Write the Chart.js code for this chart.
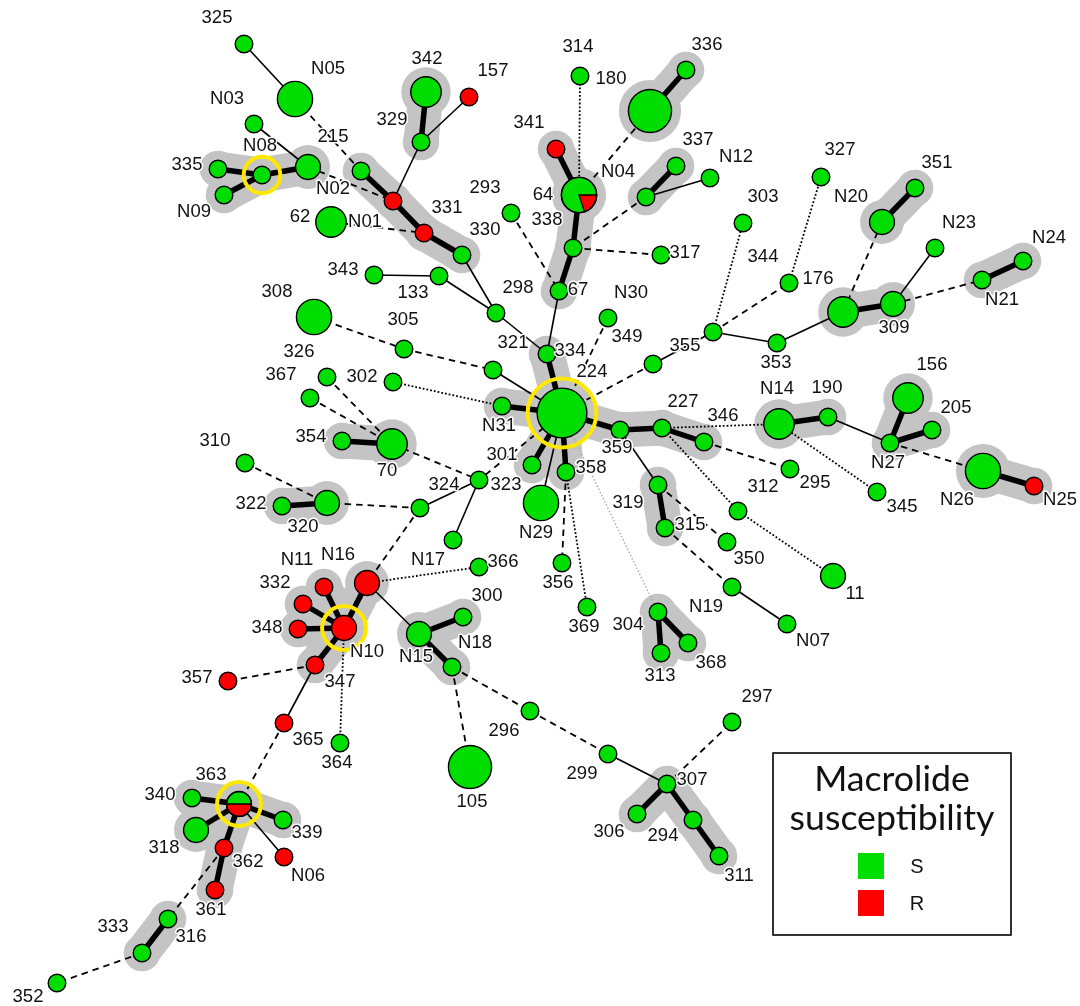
<!DOCTYPE html>
<html lang="en">
<head>
<meta charset="UTF-8">
<title>MST - Macrolide susceptibility</title>
<script src="https://cdn.jsdelivr.net/npm/chart.js"></script>
<style>
  html, body { margin: 0; padding: 0; background: #fff; }
  #wrap { width: 1080px; height: 1006px; }
</style>
</head>
<body>
<div id="wrap"><canvas id="mst" width="1080" height="1006"></canvas></div>
<script>
// nodes of the minimum spanning tree (layout coords, isolates per node, share of resistant isolates)
const nodeIds = ['325','N05','N03','N08','335','N09','N02','62','308','343','342','329','157','215','r1','331','330','133','298','67','293','341','64','314','180','336','337','N12','u3','338','317','N30','327','303','176','351','N20','N23','N24','N21','u4','309','344','353','355','334','hub','N31','321','305','302','70','354','326','367','310','320','322','301','358','323','324','N29','N17','366','356','369','300','N15','N18','N16','N10','332','N11','348','347','357','365','364','363','340','318','339','362','N06','361','316','333','352','296','105','299','307','306','294','311','297','N14','190','156','205','N27','N26','N25','295','345','312','350','11','N19','N07','359','227','346','319','315','304','313','368'];
const nodeX = [244,295,254,262,218,224,308,331,314,374,426,421,469,361,393,424,462,439,496,559,511,556,579,580,650,686,676,710,646,573,661,608,821,743,789,915,882,935,1023,982,843,893,713,777,653,547,562,502,493,404,393,392,342,327,310,245,327,282,532,566,479,420,541,453,479,562,587,463,419,452,367,344,324,303,298,315,228,284,340,239,192,196,283,224,284,215,168,142,57,530,470,608,667,637,693,719,732,779,828,908,932,890,983,1034,790,877,738,727,833,732,787,620,662,704,658,665,658,661,688];
const nodeY = [44,99,124,175,169,195,167,222,317,275,92,142,97,171,201,233,255,276,313,291,213,149,195,76,111,70,166,178,197,248,255,318,177,223,283,188,222,248,261,280,312,304,332,343,364,354,413,406,370,349,382,444,441,377,398,463,503,506,465,472,480,508,503,540,567,563,607,617,634,667,583,628,587,604,629,665,681,723,743,804,798,830,820,848,857,890,919,953,983,711,767,754,784,814,820,856,722,424,417,398,430,443,471,486,469,492,511,542,576,587,624,430,428,442,485,528,612,653,643];
const nodeCount = [1,4,1,1,1,1,2,3,4,1,3,1,1,1,1,1,1,1,1,1,1,1,4,1,6,1,1,1,1,1,1,1,1,1,1,1,2,1,1,1,3,2,1,1,1,1,8,1,1,1,1,3,1,1,1,1,2,1,1,1,1,1,4,1,1,1,1,1,2,1,2,2,1,1,1,1,1,1,1,2,1,2,1,1,1,1,1,1,1,1,6,1,1,1,1,1,1,3,1,3,1,1,4,1,1,1,1,1,2,1,1,1,1,1,1,1,1,1,1];
const nodeResistant = [0,0,0,0,0,0,0,0,0,0,0,0,1,0,1,1,0,0,0,0,0,1,0.2,0,0,0,0,0,0,0,0,0,0,0,0,0,0,0,0,0,0,0,0,0,0,0,0,0,0,0,0,0,0,0,0,0,0,0,0,0,0,0,0,0,0,0,0,0,0,0,1,1,1,1,1,1,1,1,0,0.5,0,0,0,1,1,1,0,0,0,0,0,0,0,0,0,0,0,0,0,0,0,0,0,1,0,0,0,0,0,0,0,0,0,0,0,0,0,0,0];

// links: T thick (1 locus), S solid, D dashed, O dotted, L faint dotted
const links = [
  ['325','N05','S'],['N05','215','D'],['N03','N02','S'],
  ['335','N08','T'],['N09','N08','T'],['N08','N02','T'],['N02','r1','D'],['62','331','D'],
  ['215','r1','T'],['r1','331','T'],['331','330','T'],
  ['r1','329','S'],['329','342','T'],['329','157','S'],
  ['330','298','S'],['343','133','S'],['133','298','S'],['298','334','S'],
  ['67','334','S'],['334','hub','T'],['293','67','D'],
  ['341','64','T'],['64','338','T'],['338','67','T'],
  ['314','64','O'],['180','64','D'],['180','336','T'],
  ['u3','338','D'],['u3','337','T'],['u3','N12','S'],['338','317','D'],
  ['N30','hub','D'],['355','hub','D'],['355','344','S'],
  ['344','303','O'],['344','176','D'],['344','353','S'],['176','327','O'],
  ['353','u4','S'],['u4','309','T'],['u4','N20','D'],['N20','351','T'],['309','N23','S'],['309','N21','D'],['N21','N24','T'],
  ['hub','N31','T'],['hub','321','S'],['308','305','D'],['305','321','D'],['302','N31','O'],
  ['hub','301','T'],['hub','358','T'],['hub','N29','S'],['hub','323','D'],
  ['323','324','S'],['323','N17','S'],['324','320','D'],['324','N16','D'],
  ['70','323','D'],['354','70','T'],['326','70','D'],['367','70','D'],
  ['310','320','D'],['322','320','T'],
  ['358','356','D'],['358','369','O'],['hub','304','L'],
  ['N16','366','O'],['N16','N15','S'],['N16','N10','T'],
  ['N15','300','T'],['N15','N18','T'],['N18','105','D'],['N18','296','D'],['296','299','D'],['299','307','S'],['307','297','D'],
  ['307','306','T'],['307','294','T'],['294','311','T'],
  ['N10','332','T'],['N10','N11','T'],['N10','348','T'],['N10','347','T'],['N10','364','O'],
  ['347','357','D'],['347','365','S'],['365','363','D'],
  ['363','340','T'],['363','318','T'],['363','339','T'],['363','362','T'],['362','361','T'],['363','N06','S'],
  ['362','316','D'],['316','333','T'],['333','352','D'],
  ['hub','359','T'],['359','227','T'],['227','346','T'],['227','N14','O'],['346','295','D'],['227','312','O'],['312','11','O'],
  ['359','319','S'],['319','315','T'],['319','350','D'],['315','N19','D'],['N19','N07','S'],
  ['N14','190','T'],['N14','345','O'],['190','N27','S'],['N27','156','T'],['N27','205','T'],['N27','N26','D'],['N26','N25','T'],
  ['304','313','T'],['304','368','T']
];

// clonal complexes (grey shading)
const complexes = [
  ['335','N08','N09','N02'],['215','r1','331','330'],['342','329'],['341','64','338','67'],
  ['180','336'],['337','u3'],['N20','351'],['u4','309'],['N21','N24'],
  ['hub','334','N31','301','358','359','227','346'],['354','70'],['322','320'],
  ['N16','N10','332','N11','348','347'],['N15','300','N18'],
  ['363','340','318','339','362','361'],['316','333'],['307','306','294','311'],
  ['N14','190'],['N27','156','205'],['N26','N25'],['319','315'],['304','313','368']
];

// founders (yellow rings)
const founders = ['N08','hub','N10','363'];

// text labels [text, x, y]
const labels = [
  ['325',217,18],['N05',328,69],['N03',227,99],['N08',260,146],['335',187,165],['N09',194,212],
  ['N02',333,189],['62',300,217],['215',333,137],['N01',365,222],['308',277,292],['343',343,270],
  ['342',427,59],['329',392,120],['157',493,71],['331',447,208],['330',485,230],['133',413,293],
  ['305',403,320],['293',485,188],['298',518,288],['67',578,290],['341',529,123],['64',543,195],
  ['N04',618,172],['314',578,47],['180',611,79],['336',707,45],['337',698,140],['N12',736,157],
  ['338',547,220],['317',685,253],['N30',631,293],['349',627,337],['327',840,150],['303',763,197],
  ['344',763,257],['176',818,279],['351',937,163],['N20',851,197],['N23',959,223],['N24',1049,238],
  ['N21',1002,300],['309',894,328],['355',685,346],['353',776,363],['321',513,343],['334',570,351],
  ['224',592,372],['N31',499,426],['302',362,377],['70',387,471],['354',311,437],['326',299,352],
  ['367',281,375],['310',215,441],['320',303,527],['322',251,504],['301',502,455],['358',591,468],
  ['323',506,485],['324',444,485],['N29',536,533],['N17',428,560],['366',503,562],['356',558,583],
  ['369',584,627],['300',487,596],['N15',416,657],['N18',475,643],['N16',338,555],['N11',297,560],
  ['332',275,583],['348',267,628],['N10',367,652],['347',340,682],['357',197,678],['365',308,740],
  ['364',337,763],['363',211,775],['340',160,795],['318',164,848],['339',307,833],['362',248,862],
  ['N06',308,876],['361',211,910],['316',191,937],['333',113,927],['352',28,997],['296',504,731],
  ['105',472,802],['299',582,774],['307',692,780],['306',609,832],['294',663,836],['311',739,876],
  ['297',757,697],['N14',777,389],['190',827,388],['156',932,365],['205',956,408],['N27',888,463],
  ['N26',957,500],['N25',1060,500],['295',815,483],['345',902,507],['312',763,487],['350',749,559],
  ['11',855,594],['N19',706,607],['N07',813,641],['359',617,448],['227',683,402],['346',723,416],
  ['319',628,503],['315',690,525],['304',628,625],['313',660,676],['368',711,663]
];

const legendTitle = ['Macrolide', 'susceptibility'];
const legendItems = ['S', 'R'];

const GREEN = '#00dd00';
const RED = '#ff0000';
const idx = {};
nodeIds.forEach((id, i) => { idx[id] = i; });
const radius = n => 8.8 * Math.sqrt(n);

function pos(chart, id) {
  const i = idx[id];
  return [chart.scales.x.getPixelForValue(nodeX[i]), chart.scales.y.getPixelForValue(nodeY[i])];
}

const networkPlugin = {
  id: 'network',
  beforeDatasetsDraw(chart) {
    const ctx = chart.ctx;
    ctx.save();
    // grey shading of complexes
    ctx.fillStyle = '#c4c4c4';
    ctx.strokeStyle = '#c4c4c4';
    ctx.lineCap = 'round';
    complexes.forEach(group => {
      links.forEach(([a, b]) => {
        if (group.includes(a) && group.includes(b)) {
          const [x1, y1] = pos(chart, a), [x2, y2] = pos(chart, b);
          ctx.lineWidth = 35;
          ctx.beginPath(); ctx.moveTo(x1, y1); ctx.lineTo(x2, y2); ctx.stroke();
        }
      });
      group.forEach(id => {
        const [x, y] = pos(chart, id);
        ctx.beginPath(); ctx.arc(x, y, radius(nodeCount[idx[id]]) + 9.5, 0, Math.PI * 2); ctx.fill();
      });
    });
    // links
    ctx.lineCap = 'butt';
    links.forEach(([a, b, t]) => {
      const [x1, y1] = pos(chart, a), [x2, y2] = pos(chart, b);
      ctx.strokeStyle = '#000';
      ctx.setLineDash([]);
      if (t === 'T') ctx.lineWidth = 5.5;
      else if (t === 'S') ctx.lineWidth = 1.6;
      else if (t === 'D') { ctx.lineWidth = 1.8; ctx.setLineDash([6.5, 5]); }
      else if (t === 'O') { ctx.lineWidth = 1.8; ctx.setLineDash([1.8, 2]); }
      else { ctx.lineWidth = 1.4; ctx.strokeStyle = '#aaaaaa'; ctx.setLineDash([1.5, 2]); }
      ctx.beginPath(); ctx.moveTo(x1, y1); ctx.lineTo(x2, y2); ctx.stroke();
    });
    ctx.restore();
  },
  afterDatasetsDraw(chart) {
    const ctx = chart.ctx;
    ctx.save();
    // mixed nodes: resistant wedge
    nodeIds.forEach((id, i) => {
      const f = nodeResistant[i];
      if (f > 0 && f < 1) {
        const [x, y] = pos(chart, id);
        const r = radius(nodeCount[i]);
        ctx.beginPath();
        ctx.moveTo(x, y);
        ctx.arc(x, y, r, 0, f * Math.PI * 2);
        ctx.closePath();
        ctx.fillStyle = RED; ctx.fill();
        ctx.strokeStyle = '#000'; ctx.lineWidth = 1.3; ctx.stroke();
        ctx.beginPath(); ctx.arc(x, y, r, 0, Math.PI * 2); ctx.stroke();
      }
    });
    // founders
    ctx.strokeStyle = '#ffe800';
    ctx.lineWidth = 4;
    founders.forEach(id => {
      const [x, y] = pos(chart, id);
      ctx.beginPath(); ctx.arc(x, y, radius(nodeCount[idx[id]]) + 9.5, 0, Math.PI * 2); ctx.stroke();
    });
    // labels
    ctx.font = '18.5px "Liberation Sans", Arial, sans-serif';
    ctx.textAlign = 'center';
    ctx.textBaseline = 'middle';
    ctx.lineJoin = 'round';
    labels.forEach(([t, lx, ly]) => {
      const x = chart.scales.x.getPixelForValue(lx), y = chart.scales.y.getPixelForValue(ly);
      ctx.strokeStyle = '#fff'; ctx.lineWidth = 3; ctx.strokeText(t, x, y);
      ctx.fillStyle = '#111'; ctx.fillText(t, x, y);
    });
    // legend box
    const X = v => chart.scales.x.getPixelForValue(v), Y = v => chart.scales.y.getPixelForValue(v);
    ctx.fillStyle = '#fff';
    ctx.fillRect(X(773), Y(753), X(1011) - X(773), Y(935) - Y(753));
    ctx.strokeStyle = '#333'; ctx.lineWidth = 2;
    ctx.strokeRect(X(773), Y(753), X(1011) - X(773), Y(935) - Y(753));
    let fs = 32;
    ctx.font = fs + 'px Lato, "Open Sans", sans-serif';
    fs = fs * 205 / ctx.measureText(legendTitle[1]).width;
    ctx.font = fs.toFixed(1) + 'px Lato, "Open Sans", sans-serif';
    ctx.fillStyle = '#111';
    ctx.fillText(legendTitle[0], X(892), Y(779));
    ctx.fillText(legendTitle[1], X(892), Y(818));
    ctx.font = '20px "Liberation Sans", Arial, sans-serif';
    legendItems.forEach((t, k) => {
      ctx.fillStyle = k === 0 ? GREEN : RED;
      ctx.fillRect(X(858), Y(853 + k * 37), 26, 26);
      ctx.fillStyle = '#111';
      ctx.fillText(t, X(917), Y(867 + k * 37));
    });
    ctx.restore();
  }
};

const radii = nodeCount.map(radius);
new Chart(document.getElementById('mst'), {
  type: 'scatter',
  data: {
    datasets: [{
      data: nodeIds.map((id, i) => ({ x: nodeX[i], y: nodeY[i] })),
      pointRadius: radii,
      pointHoverRadius: radii,
      pointBackgroundColor: nodeResistant.map(f => f >= 1 ? RED : GREEN),
      pointBorderColor: '#000',
      pointBorderWidth: 1.4,
      clip: false
    }]
  },
  options: {
    responsive: false,
    animation: false,
    events: [],
    layout: { padding: 0, autoPadding: false },
    plugins: { legend: { display: false }, tooltip: { enabled: false } },
    scales: {
      x: { type: 'linear', min: 0, max: 1080, display: false },
      y: { type: 'linear', min: 0, max: 1006, reverse: true, display: false }
    }
  },
  plugins: [networkPlugin]
});
</script>
</body>
</html>
